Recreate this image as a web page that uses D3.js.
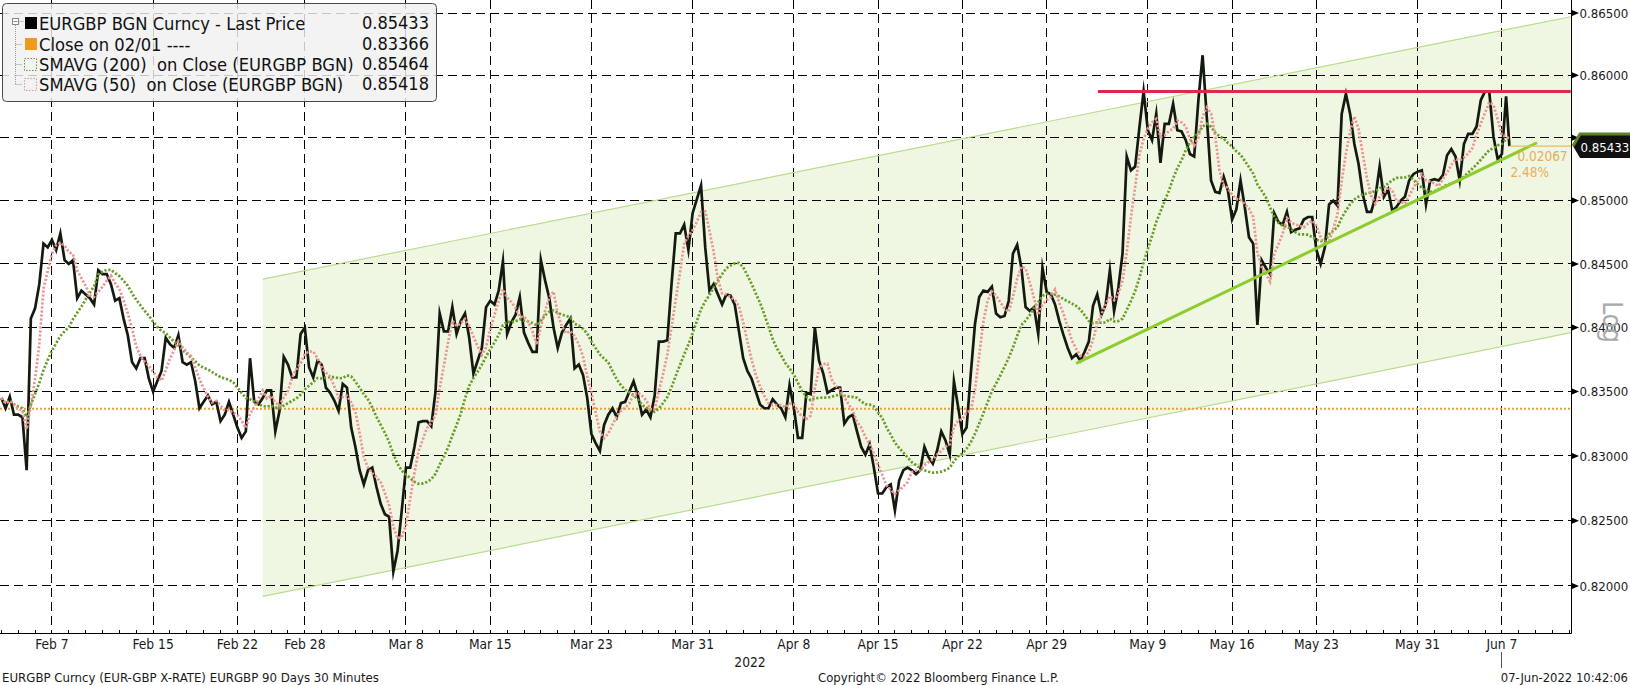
<!DOCTYPE html>
<html><head><meta charset="utf-8">
<script src="https://cdn.jsdelivr.net/npm/d3@7"></script>
<style>
html,body{margin:0;padding:0;background:#fff;}
svg{display:block;}
text{font-family:"DejaVu Sans Condensed","DejaVu Sans",sans-serif;font-stretch:condensed;}
</style></head><body>
<svg id="chart" width="1630" height="685"></svg>
<script>
// ---------------- DATA ----------------
const firstTradingDay = "2022-02-02";
const samplesPerDay = 4;           // one reading every 6 hours of each trading day
const lastPrice = [
  0.8345,0.8337,0.8346,0.8332, // Feb 2
  0.8332,0.8330,0.8289,0.8407, // Feb 3
  0.8415,0.8434,0.8466,0.8463, // Feb 4
  0.8469,0.8461,0.8474,0.8453, // Feb 7
  0.8450,0.8453,0.8423,0.8429, // Feb 8
  0.8426,0.8423,0.8418,0.8445, // Feb 9
  0.8442,0.8442,0.8434,0.8421, // Feb 10
  0.8423,0.8407,0.8394,0.8373, // Feb 11
  0.8368,0.8376,0.8376,0.8360, // Feb 14
  0.8350,0.8358,0.8366,0.8392, // Feb 15
  0.8387,0.8384,0.8394,0.8373, // Feb 16
  0.8371,0.8373,0.8358,0.8337, // Feb 17
  0.8342,0.8347,0.8340,0.8342, // Feb 18
  0.8327,0.8332,0.8342,0.8332, // Feb 21
  0.8322,0.8314,0.8319,0.8376, // Feb 22
  0.8342,0.8340,0.8345,0.8351, // Feb 23
  0.8351,0.8319,0.8335,0.8377, // Feb 24
  0.8371,0.8361,0.8361,0.8395, // Feb 25
  0.8400,0.8369,0.8361,0.8374, // Feb 28
  0.8371,0.8353,0.8349,0.8343, // Mar 1
  0.8335,0.8356,0.8353,0.8322, // Mar 2
  0.8307,0.8289,0.8278,0.8289, // Mar 3
  0.8291,0.8276,0.8263,0.8255, // Mar 4
  0.8253,0.8211,0.8227,0.8258, // Mar 7
  0.8291,0.8291,0.8307,0.8326, // Mar 8
  0.8327,0.8327,0.8323,0.8350, // Mar 9
  0.8411,0.8397,0.8397,0.8416, // Mar 10
  0.8395,0.8405,0.8411,0.8392, // Mar 11
  0.8364,0.8374,0.8384,0.8416, // Mar 14
  0.8421,0.8418,0.8429,0.8452, // Mar 15
  0.8395,0.8404,0.8410,0.8424, // Mar 16
  0.8396,0.8388,0.8381,0.8381, // Mar 17
  0.8453,0.8437,0.8423,0.8400, // Mar 18
  0.8384,0.8396,0.8402,0.8407, // Mar 21
  0.8368,0.8371,0.8363,0.8345, // Mar 22
  0.8317,0.8310,0.8304,0.8324, // Mar 23
  0.8332,0.8337,0.8330,0.8341, // Mar 24
  0.8342,0.8350,0.8358,0.8347, // Mar 25
  0.8332,0.8336,0.8330,0.8347, // Mar 28
  0.8389,0.8389,0.8390,0.8434, // Mar 29
  0.8474,0.8474,0.8481,0.8461, // Mar 30
  0.8490,0.8501,0.8512,0.8463, // Mar 31
  0.8429,0.8434,0.8426,0.8418, // Apr 1
  0.8426,0.8425,0.8418,0.8397, // Apr 4
  0.8376,0.8366,0.8360,0.8350, // Apr 5
  0.8340,0.8337,0.8337,0.8344, // Apr 6
  0.8340,0.8337,0.8330,0.8355, // Apr 7
  0.8338,0.8314,0.8314,0.8349, // Apr 8
  0.8348,0.8400,0.8374,0.8364, // Apr 11
  0.8349,0.8351,0.8353,0.8353, // Apr 12
  0.8325,0.8330,0.8332,0.8319, // Apr 13
  0.8307,0.8301,0.8309,0.8291, // Apr 14
  0.8271,0.8271,0.8276,0.8278, // Apr 15
  0.8258,0.8281,0.8289,0.8291, // Apr 18
  0.8289,0.8286,0.8289,0.8307, // Apr 19
  0.8299,0.8294,0.8304,0.8319, // Apr 20
  0.8312,0.8301,0.8358,0.8338, // Apr 21
  0.8317,0.8322,0.8364,0.8403, // Apr 22
  0.8424,0.8429,0.8428,0.8432, // Apr 25
  0.8411,0.8408,0.8409,0.8421, // Apr 26
  0.8458,0.8465,0.8447,0.8416, // Apr 27
  0.8413,0.8416,0.8395,0.8447, // Apr 28
  0.8428,0.8426,0.8418,0.8405, // Apr 29
  0.8394,0.8384,0.8376,0.8379, // May 2
  0.8374,0.8381,0.8389,0.8417, // May 3
  0.8426,0.8410,0.8418,0.8445, // May 4
  0.8413,0.8431,0.8458,0.8535, // May 5
  0.8524,0.8527,0.8558,0.8587, // May 6
  0.8556,0.8548,0.8569,0.8530, // May 9
  0.8561,0.8561,0.8577,0.8556, // May 10
  0.8555,0.8548,0.8537,0.8535, // May 11
  0.8580,0.8616,0.8566,0.8516, // May 12
  0.8507,0.8506,0.8519,0.8508, // May 13
  0.8485,0.8493,0.8516,0.8495, // May 16
  0.8471,0.8466,0.8402,0.8453, // May 17
  0.8447,0.8442,0.8490,0.8483, // May 18
  0.8481,0.8491,0.8475,0.8477, // May 19
  0.8478,0.8485,0.8487,0.8487, // May 20
  0.8461,0.8450,0.8463,0.8497, // May 23
  0.8500,0.8496,0.8569,0.8585, // May 24
  0.8569,0.8545,0.8529,0.8505, // May 25
  0.8491,0.8491,0.8503,0.8527, // May 26
  0.8503,0.8509,0.8492,0.8495, // May 27
  0.8500,0.8503,0.8516,0.8521, // May 30
  0.8523,0.8524,0.8497,0.8516, // May 31
  0.8517,0.8516,0.8520,0.8536, // Jun 1
  0.8541,0.8535,0.8516,0.8545, // Jun 2
  0.8553,0.8553,0.8559,0.8580, // Jun 3
  0.8587,0.8587,0.8551,0.8533, // Jun 6
  0.8537,0.8583                // Jun 7
];
const lastTick = { time: "2022-06-07 10:42", value: 0.85433 };
const closeRef = { value: 0.83366 };
const sma200Bars = 17;   // 200 x 30min bars in 6h readings
const sma50Bars = 4;     // 50 x 30min bars in 6h readings

const xTickDates = ["2022-02-07","2022-02-15","2022-02-22","2022-02-28","2022-03-08","2022-03-15",
  "2022-03-23","2022-03-31","2022-04-08","2022-04-15","2022-04-22","2022-04-29","2022-05-09",
  "2022-05-16","2022-05-23","2022-05-31","2022-06-07"];
const yTickValues = [0.820,0.825,0.830,0.835,0.840,0.845,0.850,0.855,0.860,0.865];

const legendLabels = ["EURGBP BGN Curncy - Last Price","Close on 02/01 ----",
  "SMAVG (200)  on Close (EURGBP BGN)","SMAVG (50)  on Close (EURGBP BGN)"];
const legendValues = ["0.85433","0.83366","0.85464","0.85418"];

const channelTop    = [["2022-02-23 12:00",0.8438],["2022-06-13 02:00",0.8647]];
const channelBottom = [["2022-02-23 12:00",0.8192],["2022-06-13 02:00",0.8396]];
const resistanceLine = [["2022-05-04 01:00",0.8587],["2022-06-13 02:00",0.8587]];
const supportLine    = [["2022-05-02 18:00",0.8372],["2022-06-09 02:00",0.8546]];

const footerLeft = "EURGBP Curncy (EUR-GBP X-RATE) EURGBP 90 Days 30 Minutes";
const footerMid = "Copyright\u00A9 2022 Bloomberg Finance L.P.";
const footerRight = "07-Jun-2022 10:42:06";
const yearLabel = "2022";

// ---------------- LAYOUT ----------------
const plot = {left:0, right:1571, top:0, bottom:633};
const xDomainDays = [-0.08, 93.1];
const yDomain = [0.81641, 0.86605];

const C = {
  price:"#141a10", sma200:"#6a9c28", sma50:"#ec9494", close:"#f0a030",
  fill:"#eff7e2", edge:"#b9dc8e", red:"#e0284f", green:"#8ccd2c", grid:"#000"
};

const svg = d3.select("#chart");
const fmtKey = d3.timeFormat("%Y-%m-%d");
const parseDay = d3.timeParse("%Y-%m-%d");
const parseTime = d3.timeParse("%Y-%m-%d %H:%M");

const calendar = d3.timeDay.range(parseDay(firstTradingDay), parseDay("2022-07-01"))
  .filter(d => d.getDay() !== 0 && d.getDay() !== 6);
const dayIdx = new Map(calendar.map((d,i)=>[fmtKey(d), i]));
function tIndex(date){
  const day = d3.timeDay.floor(date);
  return dayIdx.get(fmtKey(day)) + (date - day)/864e5;
}

const x = d3.scaleLinear().domain(xDomainDays).range([plot.left, plot.right]);
const y = d3.scaleLog().domain(yDomain).range([plot.bottom, plot.top]);
const X = d => x(tIndex(d));

// series
const series = lastPrice.map((v,k)=>({
  t: d3.timeHour.offset(calendar[Math.floor(k/samplesPerDay)], (k%samplesPerDay)*24/samplesPerDay), v
}));
series.push({t: parseTime(lastTick.time), v: lastTick.value});
function sma(arr,n){
  return arr.map((d,i)=>({t:d.t, v:d3.mean(arr.slice(Math.max(0,i-n+1), i+1), e=>e.v)}));
}
const s200 = sma(series, sma200Bars);
const s50 = sma(series, sma50Bars);
const line = d3.line().x(d=>X(d.t)).y(d=>y(d.v));

// clip
svg.append("defs").append("clipPath").attr("id","clip").append("rect")
  .attr("x",plot.left).attr("y",plot.top).attr("width",plot.right-plot.left).attr("height",plot.bottom-plot.top);
const g = svg.append("g").attr("clip-path","url(#clip)");

// channel fill
const seg = s => s.map(([t,v])=>[X(parseTime(t)), y(v)]);
const ct = seg(channelTop), cb = seg(channelBottom);
g.append("path").attr("d", "M"+ct[0]+"L"+ct[1]+"L"+cb[1]+"L"+cb[0]+"Z").attr("fill",C.fill);

// grid
g.selectAll(".hg").data(yTickValues).join("line")
  .attr("x1",plot.left).attr("x2",plot.right).attr("y1",d=>y(d)).attr("y2",d=>y(d))
  .attr("stroke",C.grid).attr("stroke-dasharray","9,5").attr("stroke-width",1).attr("shape-rendering","crispEdges");
g.selectAll(".vg").data(xTickDates).join("line")
  .attr("x1",d=>X(parseDay(d))).attr("x2",d=>X(parseDay(d))).attr("y1",plot.top).attr("y2",plot.bottom)
  .attr("stroke",C.grid).attr("stroke-dasharray","9,5").attr("stroke-width",1).attr("shape-rendering","crispEdges");

// channel edges
[ct,cb].forEach(s=>g.append("path").attr("d","M"+s[0]+"L"+s[1]).attr("stroke",C.edge).attr("stroke-width",1.2).attr("fill","none"));

// close line
g.append("line").attr("x1",plot.left).attr("x2",plot.right).attr("y1",y(closeRef.value)).attr("y2",y(closeRef.value))
  .attr("stroke",C.close).attr("stroke-width",2).attr("stroke-dasharray","2,2");

// price
g.append("path").datum(series).attr("d",line).attr("fill","none").attr("stroke",C.price)
  .attr("stroke-width",2.7).attr("stroke-linejoin","miter").attr("stroke-miterlimit",10);
// SMAs
g.append("path").datum(s200).attr("d",line).attr("fill","none").attr("stroke",C.sma200)
  .attr("stroke-width",2.7).attr("stroke-dasharray","2.2,1.8");
g.append("path").datum(s50).attr("d",line).attr("fill","none").attr("stroke",C.sma50)
  .attr("stroke-width",2.7).attr("stroke-dasharray","2.2,1.8");

// resistance + support
const rl = seg(resistanceLine), sl = seg(supportLine);
g.append("path").attr("d","M"+rl[0]+"L"+rl[1]).attr("stroke",C.red).attr("stroke-width",3).attr("fill","none");
g.append("path").attr("d","M"+sl[0]+"L"+sl[1]).attr("stroke",C.green).attr("stroke-width",3).attr("fill","none");

// diff annotation
const lx = X(parseTime(lastTick.time)), ly = y(lastTick.value);
g.append("line").attr("x1",lx).attr("x2",plot.right).attr("y1",ly).attr("y2",ly).attr("stroke","#f2b75c").attr("stroke-width",1.2);
const diff = lastTick.value - closeRef.value;
svg.append("text").attr("x",lx+8).attr("y",ly+10).attr("dy","0.35em").attr("font-size",13.5).attr("fill","#e6ad5c")
  .text(diff.toFixed(5));
svg.append("text").attr("x",lx+1).attr("y",ly+26).attr("dy","0.35em").attr("font-size",13.5).attr("fill","#e6ad5c")
  .text((diff/closeRef.value*100).toFixed(2)+"%");

// axes frame
svg.append("line").attr("x1",plot.right+0.5).attr("x2",plot.right+0.5).attr("y1",plot.top).attr("y2",plot.bottom+0.5).attr("stroke","#000");
svg.append("line").attr("x1",plot.left).attr("x2",plot.right+0.5).attr("y1",plot.bottom+0.5).attr("y2",plot.bottom+0.5).attr("stroke","#000");

// y ticks (the label hidden behind the last-price tag is not drawn)
const yt = svg.append("g");
yTickValues.forEach(v=>{
  const yy = y(v);
  yt.append("path").attr("d",`M${plot.right+1},${yy-3}L${plot.right+8},${yy}L${plot.right+1},${yy+3}Z`).attr("fill","#000");
  if (Math.abs(yy - ly) > 14)
    yt.append("text").attr("x",plot.right+8.5).attr("y",yy).attr("dy","0.36em").attr("font-size",13.1).attr("fill","#1a1a1a")
      .text(v.toFixed(5));
});
// Log label
svg.append("text").attr("transform",`translate(1603,322) rotate(90)`).attr("text-anchor","middle")
  .attr("font-size",26).attr("fill","#a9a9a9").style("font-stretch","normal").attr("font-family","DejaVu Sans").text("Log");

// last price tag
const tg = svg.append("g");
tg.append("path").attr("d",`M${plot.right+2},${ly}L${plot.right+9},${ly-12}L1630,${ly-12}L1630,${ly+12}L${plot.right+9},${ly+12}Z`).attr("fill","#111");
tg.append("path").attr("d",`M${plot.right+2},${ly}L${plot.right+9},${ly-12}L1630,${ly-12}`).attr("fill","none").attr("stroke","#5d8226").attr("stroke-width",3);
tg.append("text").attr("x",plot.right+9.5).attr("y",ly+1).attr("dy","0.36em").attr("font-size",13.1).attr("fill","#fff").text(lastTick.value.toFixed(5));

// x axis minor ticks
const xa = svg.append("g");
calendar.forEach(d=>{
  const xx = X(d);
  if (xx>plot.left && xx<plot.right) xa.append("line").attr("x1",xx).attr("x2",xx).attr("y1",plot.bottom-3).attr("y2",plot.bottom)
    .attr("stroke","#000").attr("shape-rendering","crispEdges");
});
const fmtTick = d3.timeFormat("%b %-d");
xTickDates.forEach(s=>{
  const xx = X(parseDay(s));
  xa.append("text").attr("x",xx).attr("y",plot.bottom+11).attr("dy","0.36em").attr("text-anchor","middle")
    .attr("font-size",13.7).attr("fill","#1a1a1a").text(fmtTick(parseDay(s)));
});
// current date marker
const jx = X(parseDay(xTickDates[xTickDates.length-1]));
xa.append("line").attr("x1",jx).attr("x2",jx).attr("y1",plot.bottom+19).attr("y2",plot.bottom+35).attr("stroke","#555").attr("shape-rendering","crispEdges");
svg.append("text").attr("x",750).attr("y",662).attr("dy","0.36em").attr("text-anchor","middle").attr("font-size",13.7).attr("fill","#1a1a1a").text(yearLabel);

// footer
svg.append("text").attr("x",2).attr("y",677).attr("dy","0.36em").attr("font-size",13.1).attr("fill","#1a1a1a").text(footerLeft);
svg.append("text").attr("x",818).attr("y",677).attr("dy","0.36em").attr("font-size",13).attr("fill","#1a1a1a").text(footerMid);
svg.append("text").attr("x",1628).attr("y",677).attr("dy","0.36em").attr("text-anchor","end").attr("font-size",12.9).attr("fill","#1a1a1a").text(footerRight);

// legend
const lg = svg.append("g");
lg.append("rect").attr("x",2.5).attr("y",3.5).attr("width",434).attr("height",98).attr("rx",4)
  .attr("fill","#f0f0f0").attr("fill-opacity",0.82).attr("stroke","#4a4a4a");
const rowY = [23,44,64,84];
// tree
lg.append("rect").attr("x",12.5).attr("y",18.5).attr("width",6).attr("height",6).attr("fill","#fff").attr("stroke","#888");
lg.append("line").attr("x1",13.5).attr("x2",17.5).attr("y1",21.5).attr("y2",21.5).attr("stroke","#888");
lg.append("line").attr("x1",15.5).attr("x2",15.5).attr("y1",25).attr("y2",rowY[3]+0.5).attr("stroke","#999").attr("stroke-dasharray","1,1");
rowY.slice(1).forEach(yy=>lg.append("line").attr("x1",15.5).attr("x2",22).attr("y1",yy+0.5).attr("y2",yy+0.5).attr("stroke","#999").attr("stroke-dasharray","1,1"));
lg.append("line").attr("x1",18.5).attr("x2",24).attr("y1",21.5).attr("y2",21.5).attr("stroke","#999").attr("stroke-dasharray","1,1");
lg.append("rect").attr("x",25).attr("y",rowY[0]-6).attr("width",12).attr("height",12).attr("fill","#000");
lg.append("rect").attr("x",25).attr("y",rowY[1]-6).attr("width",12).attr("height",12).attr("fill","#f29a1e");
lg.append("rect").attr("x",24.5).attr("y",rowY[2]-5.5).attr("width",12).attr("height",12).attr("fill","none").attr("stroke",C.sma200).attr("stroke-dasharray","1.5,1.5");
lg.append("rect").attr("x",24.5).attr("y",rowY[3]-5.5).attr("width",12).attr("height",12).attr("fill","none").attr("stroke",C.sma50).attr("stroke-dasharray","1.5,1.5");
legendLabels.forEach((t,i)=>{
  lg.append("text").attr("x",39).attr("y",rowY[i]).attr("dy","0.36em").attr("font-size",18.2).attr("fill","#111")
    .attr("xml:space","preserve").style("white-space","pre").text(t);
  lg.append("text").attr("x",362).attr("y",rowY[i]).attr("dy","0.36em").attr("font-size",18).attr("fill","#111").text(legendValues[i]);
});
</script>
</body></html>
